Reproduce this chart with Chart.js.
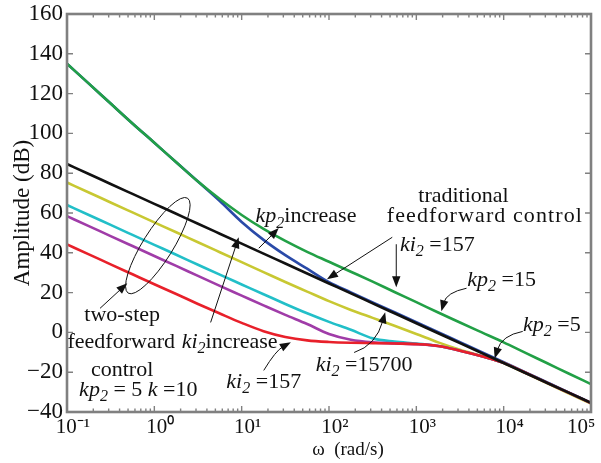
<!DOCTYPE html>
<html><head><meta charset="utf-8">
<script src="https://cdn.jsdelivr.net/npm/chart.js@4/dist/chart.umd.min.js"></script>
<style>html,body{margin:0;padding:0;background:#fff}#wrap{width:601px;height:463px;position:relative}</style>
</head><body><div id="wrap"><canvas id="c" width="601" height="463"></canvas></div>
<script>
// ---- data ----
const omega = [0.1, 0.178, 0.316, 0.562, 1, 1.78, 3.16, 5.62, 10, 17.8, 31.6, 56.2, 100, 178, 316, 562, 1000, 1780, 3160, 5620, 10000, 17800, 31600, 56200, 100000];
const greenKp15 = [135, 125, 115, 105, 95.3, 85.5, 75.8, 67, 59, 52, 46, 40.5, 35.5, 30.5, 25.5, 20.3, 15.2, 10, 5, 0, -5, -10.3, -15.5, -20.8, -26];
const blueKp = [135, 125, 115, 105, 95.3, 85.5, 75.8, 66, 55.5, 46.5, 38.8, 32, 25.2, 20.1, 15.1, 10.1, 5.1, 0.1, -4.9, -9.9, -15, -20.1, -25.2, -30.3, -35.4];
const blackTrad = [84.6, 79.6, 74.6, 69.6, 64.6, 59.6, 54.6, 49.6, 44.6, 39.6, 34.6, 29.6, 24.6, 19.6, 14.6, 9.6, 4.6, -0.4, -5.4, -10.4, -15.4, -20.4, -25.4, -30.4, -35.4];
const yellowKi = [75.3, 70.3, 65.3, 60.3, 55.3, 50.3, 45.3, 40.3, 35.3, 30.3, 25.3, 20.5, 15.7, 11.3, 7.3, 3.3, -0.8, -5, -8.7, -11.8, -15.4, -20.5, -25.6, -30.7, -35.8];
const cyanKi = [64, 59, 54, 49, 44, 39, 34, 29, 24.1, 19.2, 14.3, 9.6, 5.3, 1.3, -3, -4.6, -5.6, -6.8, -9.2, -12, -15.3, -20.3, -25.4, -30.4, -35.5];
const purpleKi = [58.4, 53.4, 48.4, 43.4, 38.4, 33.4, 28.4, 23.4, 18.5, 13.6, 8.8, 4.2, -0.8, -3.7, -5, -5.5, -5.9, -6.8, -9.2, -12, -15.3, -20.3, -25.4, -30.4, -35.5];
const redKi157 = [44.2, 39.2, 34.2, 29.2, 24.2, 19.3, 14.3, 9.5, 4.8, 0.6, -2.3, -4, -4.8, -5.2, -5.4, -5.6, -5.9, -6.8, -9.2, -12, -15.3, -20.3, -25.4, -30.4, -35.5];

const xTickValues = [0.1, 1, 10, 100, 1000, 10000, 100000];
const xTickLabels = ['10\u207B\u00B9', '10\u2070', '10\u00B9', '10\u00B2', '10\u00B3', '10\u2074', '10\u2075\u2003\u2002'];
const yTickValues = [-40, -20, 0, 20, 40, 60, 80, 100, 120, 140, 160];
const yTickLabels = ['\u221240', '\u221220', '0', '20', '40', '60', '80', '100', '120', '140', '160'];

const SERIF = '"Liberation Serif", "Times New Roman", serif';

// annotation texts: [omega, dB, parts, letterSpacingPx]  (n normal, i italic, s subscript)
const noteTexts = [
  [3467, 69.0, [['traditional', 'n']], 0],
  [6100, 58.9, [['feedforward control', 'n']], 1.1],
  [1742, 44.8, [['ki', 'i'], ['2', 's'], [' =157', 'n']], 0],
  [9484, 27.2, [['kp', 'i'], ['2', 's'], [' =15', 'n']], 0],
  [35650, 4.5, [['kp', 'i'], ['2', 's'], [' =5', 'n']], 0],
  [252, -15.6, [['ki', 'i'], ['2', 's'], [' =15700', 'n']], 0],
  [54.5, 58.9, [['kp', 'i'], ['2', 's'], ['increase', 'n']], 0],
  [0.428, 9.6, [['two-step', 'n']], 0],
  [0.418, -4.0, [['feedforward', 'n']], 0],
  [7.28, -4.0, [['ki', 'i'], ['2', 's'], ['increase', 'n']], 0],
  [0.428, -18.1, [['control', 'n']], 0],
  [0.655, -28.2, [['kp', 'i'], ['2', 's'], [' = 5 ', 'n'], ['k', 'i'], [' =10', 'n']], 0],
  [17.9, -24.2, [['ki', 'i'], ['2', 's'], [' =157', 'n']], 0]
];
// arrows: [fromOmega, fromDb, toOmega, toDb, ctrlOmega?, ctrlDb?]
const noteArrows = [
  [530, 47.8, 94.8, 26.7],
  [589, 44.3, 589, 22.7],
  [3758, 22.2, 1936, 10.6, 2213, 20.1],
  [16520, 0.5, 7889, -13.1, 9484, -1.5],
  [194, -10.1, 440, 10.1, 347, -6.5],
  [15.7, 42.3, 26.6, 52.4],
  [4.41, 5.0, 9.25, 47.8],
  [0.239, 12.1, 0.490, 24.7],
  [17.9, -19.1, 36.6, -5.0, 24.6, -9.1]
];
const noteEllipse = { omega: 1.097, db: 43.6, rx: 56, ry: 15, rotDeg: -58 };

function series(label, vals, color, order) {
  return {
    label, data: omega.map((w, i) => ({ x: w, y: vals[i] })),
    borderColor: color, backgroundColor: color, borderWidth: 2.6,
    pointRadius: 0, cubicInterpolationMode: 'monotone', fill: false, order
  };
}

function richText(ctx, parts, x, y, size, spacing) {
  const fonts = { n: `${size}px ${SERIF}`, i: `italic ${size}px ${SERIF}`, s: `italic ${Math.round(size * 0.72)}px ${SERIF}` };
  ctx.letterSpacing = (spacing || 0) + 'px';
  let w = 0;
  const ws = parts.map(([t, st]) => { ctx.font = fonts[st]; const m = ctx.measureText(t).width; w += m; return m; });
  let cx = x - w / 2;
  const base = y + size * 0.33;
  ctx.textBaseline = 'alphabetic';
  ctx.textAlign = 'left';
  parts.forEach(([t, st], k) => {
    ctx.font = fonts[st];
    ctx.fillText(t, cx, st === 's' ? base + size * 0.25 : base);
    cx += ws[k];
  });
  ctx.letterSpacing = '0px';
}

function arrow(ctx, x0, y0, x1, y1, cx, cy) {
  const hasC = cx !== undefined;
  const tx = x1 - (hasC ? cx : x0), ty = y1 - (hasC ? cy : y0);
  const a = Math.atan2(ty, tx), L = 11, W = 4.2;
  const bx = x1 - L * Math.cos(a) * 0.8, by = y1 - L * Math.sin(a) * 0.8;
  ctx.beginPath(); ctx.moveTo(x0, y0);
  if (hasC) ctx.quadraticCurveTo(cx, cy, bx, by); else ctx.lineTo(bx, by);
  ctx.stroke();
  ctx.beginPath(); ctx.moveTo(x1, y1);
  ctx.lineTo(x1 - L * Math.cos(a) + W * Math.sin(a), y1 - L * Math.sin(a) - W * Math.cos(a));
  ctx.lineTo(x1 - L * Math.cos(a) - W * Math.sin(a), y1 - L * Math.sin(a) + W * Math.cos(a));
  ctx.closePath(); ctx.fill();
}

const framePlugin = {
  id: 'frame',
  afterDatasetsDraw(chart) {
    const { ctx, chartArea: ca, scales: { x, y } } = chart;
    ctx.save();
    ctx.strokeStyle = '#808080';
    ctx.lineWidth = 1.4;
    ctx.beginPath();
    for (let e = -1; e < 5; e++) {
      for (let m = 1; m <= 9; m++) {
        const X = x.getPixelForValue(m * Math.pow(10, e));
        const len = m === 1 ? 6 : 3.5;
        ctx.moveTo(X, ca.bottom); ctx.lineTo(X, ca.bottom - len);
        ctx.moveTo(X, ca.top); ctx.lineTo(X, ca.top + len);
      }
    }
    yTickValues.forEach(v => {
      const Y = y.getPixelForValue(v);
      ctx.moveTo(ca.left, Y); ctx.lineTo(ca.left + 6, Y);
      ctx.moveTo(ca.right, Y); ctx.lineTo(ca.right - 6, Y);
    });
    ctx.stroke();
    ctx.lineWidth = 2.6;
    ctx.strokeRect(ca.left, ca.top, ca.right - ca.left, ca.bottom - ca.top);
    ctx.restore();
  }
};

const notePlugin = {
  id: 'notes',
  afterDraw(chart) {
    const { ctx, scales: { x, y } } = chart;
    const px = v => x.getPixelForValue(v), py = v => y.getPixelForValue(v);
    ctx.save();
    ctx.fillStyle = '#111'; ctx.strokeStyle = '#111'; ctx.lineWidth = 1;
    ctx.beginPath();
    ctx.ellipse(px(noteEllipse.omega), py(noteEllipse.db), noteEllipse.rx, noteEllipse.ry, noteEllipse.rotDeg * Math.PI / 180, 0, Math.PI * 2);
    ctx.stroke();
    noteArrows.forEach(a => {
      if (a.length > 4) arrow(ctx, px(a[0]), py(a[1]), px(a[2]), py(a[3]), px(a[4]), py(a[5]));
      else arrow(ctx, px(a[0]), py(a[1]), px(a[2]), py(a[3]));
    });
    noteTexts.forEach(([w, d, parts, sp]) => richText(ctx, parts, px(w), py(d), 22, sp));
    ctx.restore();
  }
};

new Chart(document.getElementById('c'), {
  type: 'line',
  data: {
    datasets: [
      series('traditional kp2=5', blackTrad, '#111111', 0),
      series('traditional kp2=15', greenKp15, '#22a046', 1),
      series('ki2 = 157', redKi157, '#e8202a', 2),
      series('ki2 (2)', purpleKi, '#a03ca8', 3),
      series('ki2 (3)', cyanKi, '#22bfc8', 4),
      series('ki2 = 15700', yellowKi, '#c8c832', 5),
      series('kp2 increase', blueKp, '#2a4aa8', 6)
    ]
  },
  options: {
    responsive: false, animation: false, devicePixelRatio: 1,
    layout: { padding: { left: 0, right: 10, top: 14, bottom: 0 } },
    plugins: { legend: { display: false }, tooltip: { enabled: false } },
    scales: {
      x: {
        type: 'logarithmic', min: 0.1, max: 100000,
        afterBuildTicks: s => { s.ticks = xTickValues.map(v => ({ value: v })); },
        afterFit: s => { s.height = 51; s.paddingLeft = 0; s.paddingRight = 0; },
        ticks: { autoSkip: false, maxRotation: 0, padding: 3, labelOffset: 6, color: '#111', font: { family: SERIF, size: 21 },
          callback: (v, i) => xTickLabels[i] },
        grid: { display: false, drawTicks: false }, border: { display: false },
        title: { display: true, text: '\u2003\u2003\u03C9  (rad/s)', color: '#111', font: { family: SERIF, size: 19 }, padding: { top: 0, bottom: 2 } }
      },
      y: {
        min: -40, max: 160,
        afterBuildTicks: s => { s.ticks = yTickValues.map(v => ({ value: v })); },
        afterFit: s => { s.width = 67; s.paddingTop = 0; s.paddingBottom = 0; },
        ticks: { padding: 4, color: '#111', font: { family: SERIF, size: 23 }, callback: (v, i) => yTickLabels[i] },
        grid: { display: false, drawTicks: false }, border: { display: false },
        title: { display: true, text: 'Amplitude (dB)', color: '#111', font: { family: SERIF, size: 23 }, padding: { top: 9, bottom: 0 } }
      }
    }
  },
  plugins: [framePlugin, notePlugin]
});
</script></body></html>
